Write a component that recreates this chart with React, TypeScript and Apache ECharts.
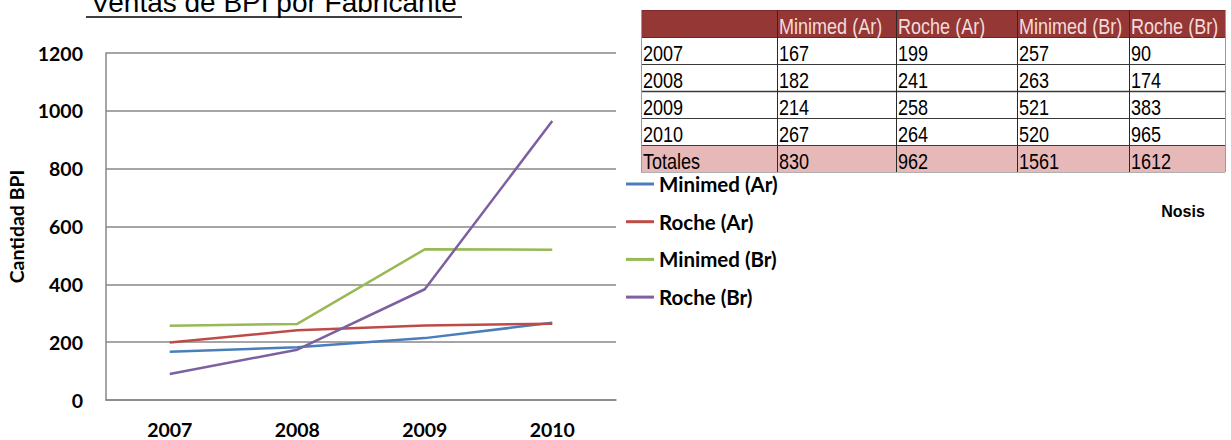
import React, { useEffect, useRef } from "react";
import * as echarts from "echarts";

const years = ["2007", "2008", "2009", "2010"];
const seriesNames = ["Minimed (Ar)", "Roche (Ar)", "Minimed (Br)", "Roche (Br)"];
const minimedAr = [167, 182, 214, 267];
const rocheAr = [199, 241, 258, 264];
const minimedBr = [257, 263, 521, 520];
const rocheBr = [90, 174, 383, 965];
const totals = [830, 962, 1561, 1612];
const colors = ["#4A7EBB", "#BE4B48", "#98B954", "#7D60A0"];

const title = "Ventas de BPI por Fabricante";
const yName = "Cantidad BPI";
const totalLabel = "Totales";
const sourceLabel = "Nosis";

function buildTable(): any[] {
  const colX = [641, 777, 896, 1017, 1129, 1225];
  const rowY = [10, 37, 64, 91, 118, 145, 172];
  const els: any[] = [];
  const left = colX[0];
  const right = colX[colX.length - 1];
  els.push({ type: "rect", shape: { x: left, y: rowY[0], width: right - left, height: rowY[1] - rowY[0] }, style: { fill: "#953735" } });
  els.push({ type: "rect", shape: { x: left, y: rowY[5], width: right - left, height: rowY[6] - rowY[5] }, style: { fill: "#E6B9B8" } });
  rowY.forEach((y, i) => {
    if (i === 0) return;
    els.push({ type: "line", shape: { x1: left, y1: y + 0.5, x2: right, y2: y + 0.5 }, style: { stroke: i === 6 ? "#b0b0b0" : "#3a3a3a", lineWidth: i === 3 ? 1.6 : 1 } });
  });
  els.push({ type: "line", shape: { x1: left, y1: rowY[0] + 0.5, x2: right, y2: rowY[0] + 0.5 }, style: { stroke: "#7a2a28", lineWidth: 1 } });
  colX.forEach((x, i) => {
    els.push({ type: "line", shape: { x1: x + 0.5, y1: rowY[0], x2: x + 0.5, y2: rowY[6] }, style: { stroke: i === 0 || i === colX.length - 1 ? "#9a9a9a" : "#2a2a2a", lineWidth: 1 } });
  });
  const cellText = (txt: string, col: number, row: number, color: string) => {
    els.push({
      type: "text",
      x: colX[col] + 2,
      y: rowY[row + 1] - 11,
      scaleX: 0.82,
      style: { text: txt, x: 0, y: 0, fill: color, font: "22px 'Liberation Sans', Arial, sans-serif", verticalAlign: "middle", align: "left" },
    });
  };
  seriesNames.forEach((n, i) => cellText(n, i + 1, 0, "#F2DCDB"));
  const all = [minimedAr, rocheAr, minimedBr, rocheBr];
  years.forEach((yr, r) => {
    cellText(yr, 0, r + 1, "#000");
    all.forEach((s, c) => cellText(String(s[r]), c + 1, r + 1, "#000"));
  });
  cellText(totalLabel, 0, 5, "#000");
  totals.forEach((t, c) => cellText(String(t), c + 1, 5, "#000"));
  return els;
}

export default function App() {
  const ref = useRef<HTMLDivElement>(null);
  useEffect(() => {
    if (!ref.current) return;
    const chart = echarts.init(ref.current, null, { renderer: "svg" });
    const lab = "'Lato', 'Open Sans', sans-serif";
    const data = [minimedAr, rocheAr, minimedBr, rocheBr];
    chart.setOption({
      animation: false,
      backgroundColor: "#ffffff",
      grid: { left: 106, top: 53, width: 510, height: 347, containLabel: false },
      xAxis: {
        type: "category",
        data: years,
        boundaryGap: true,
        axisLine: { show: true, lineStyle: { color: "#878787", width: 1.5 } },
        axisTick: { show: false },
        axisLabel: { color: "#000", fontFamily: lab, fontSize: 19.5, fontWeight: "bold", margin: 19 },
      },
      yAxis: {
        type: "value",
        min: 0,
        max: 1200,
        interval: 200,
        name: yName,
        nameLocation: "middle",
        nameGap: 80,
        nameTextStyle: { color: "#000", fontFamily: lab, fontSize: 19.5, fontWeight: "bold" },
        axisLine: { show: true, lineStyle: { color: "#878787", width: 1.5 } },
        axisTick: { show: false },
        axisLabel: { color: "#000", fontFamily: lab, fontSize: 19.5, fontWeight: "bold", margin: 23, formatter: (v: number) => String(v) },
        splitLine: { show: true, lineStyle: { color: "#878787", width: 1.5 } },
      },
      legend: {
        orient: "vertical",
        left: 626,
        top: 173,
        padding: 0,
        icon: "rect",
        itemWidth: 28,
        itemHeight: 3,
        itemGap: 15.7,
        data: seriesNames,
        textStyle: { color: "#000", fontFamily: lab, fontSize: 20.5, fontWeight: "bold", lineHeight: 22 },
      },
      series: seriesNames.map((n, i) => ({
        name: n,
        type: "line",
        data: data[i],
        symbol: "none",
        showSymbol: false,
        lineStyle: { color: colors[i], width: 2.5 },
        itemStyle: { color: colors[i] },
      })),
      graphic: [
        {
          type: "text",
          x: 274,
          y: 2,
          style: { text: title, x: 0, y: 0, fill: "#000", font: "28px 'Liberation Sans', Arial, sans-serif", align: "center", verticalAlign: "middle" },
        },
        { type: "line", shape: { x1: 86, y1: 17, x2: 462, y2: 17 }, style: { stroke: "#000", lineWidth: 1.5 } },
        ...buildTable(),
        {
          type: "text",
          x: 1183,
          y: 211,
          style: { text: sourceLabel, x: 0, y: 0, fill: "#000", font: "bold 16px 'Liberation Sans', Arial, sans-serif", align: "center", verticalAlign: "middle" },
        },
      ],
    });
    return () => chart.dispose();
  }, []);
  return <div ref={ref} style={{ position: "fixed", left: 0, top: 0, width: 1231, height: 440 }} />;
}
